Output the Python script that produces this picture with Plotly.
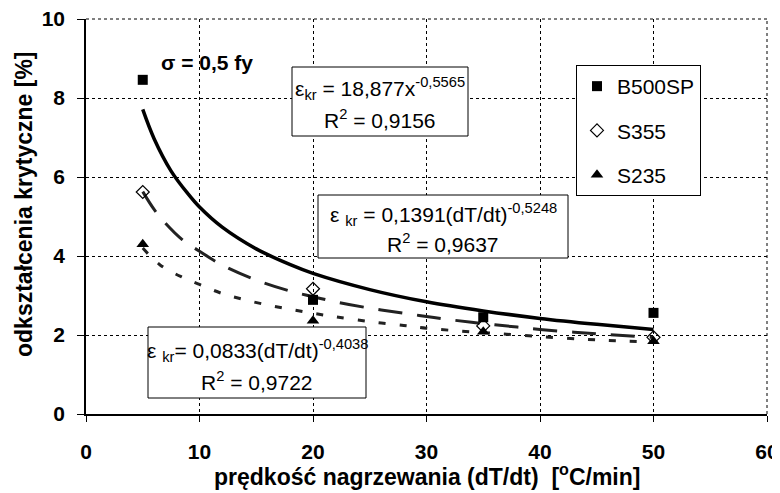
import plotly.graph_objects as go

# ---- data ----
rate = [5, 20, 35, 50]
b500sp = [8.46, 2.89, 2.45, 2.56]
s355 = [5.62, 3.17, 2.23, 1.94]
s235 = [4.30, 2.36, 2.08, 1.84]

# trend curves
fit_b_x = [5, 6, 7.5, 9, 10, 12, 15, 18, 20, 25, 30, 35, 40, 45, 50]
fit_b_y = [7.71, 6.97, 6.15, 5.57, 5.24, 4.73, 4.18, 3.78, 3.56, 3.15, 2.84, 2.61, 2.42, 2.27, 2.14]

fit_s355_x = [5, 6, 7, 8.5, 10, 12, 15, 18, 20, 22, 25, 28, 30, 32, 35, 38, 40, 43, 46, 50]
fit_s355_y = [5.63, 5.18, 4.83, 4.41, 4.12, 3.77, 3.39, 3.11, 2.97, 2.84, 2.68, 2.55, 2.47, 2.39, 2.29, 2.20, 2.14, 2.07, 2.01, 1.94]

fit_s235_x = [5, 6.5, 8.5, 10, 12, 14, 16, 18, 20, 22, 25, 28, 30, 33, 36, 40, 44, 47, 50]
fit_s235_y = [4.20, 3.78, 3.46, 3.28, 3.05, 2.89, 2.76, 2.65, 2.55, 2.46, 2.34, 2.24, 2.17, 2.10, 2.04, 1.96, 1.89, 1.85, 1.82]

x_ticks = [0, 10, 20, 30, 40, 50, 60]
y_ticks = [0, 2, 4, 6, 8, 10]

FONT = "Liberation Sans, Arial, sans-serif"

fig = go.Figure()

fig.add_trace(go.Scatter(x=fit_b_x, y=fit_b_y, mode="lines", line_shape="spline",
                         line=dict(color="black", width=3.5), showlegend=False, hoverinfo="skip"))
fig.add_trace(go.Scatter(x=fit_s355_x, y=fit_s355_y, mode="lines", line_shape="spline",
                         line=dict(color="#222", width=3, dash="24px,15px"), showlegend=False, hoverinfo="skip"))
fig.add_trace(go.Scatter(x=fit_s235_x, y=fit_s235_y, mode="lines", line_shape="spline",
                         line=dict(color="#222", width=3, dash="7px,14px"), showlegend=False, hoverinfo="skip"))

fig.add_trace(go.Scatter(x=rate, y=b500sp, mode="markers", name="B500SP", legendgroup="a",
                         marker=dict(symbol="square", size=10, color="black")))
fig.add_trace(go.Scatter(x=rate, y=s355, mode="markers", name="S355", legendgroup="b",
                         marker=dict(symbol="diamond-open", size=10, color="black", line=dict(width=1.2))))
fig.add_trace(go.Scatter(x=rate, y=s235, mode="markers", name="S235", legendgroup="c",
                         marker=dict(symbol="triangle-up", size=11, color="black")))

# page has an 8px body margin; work in reference-pixel coordinates
OFF = 8
W, H = 780 - OFF, 493 - OFF
PX0, PX1, PY0, PY1 = 86, 767, 19, 414  # plot area in reference pixels
L, T = PX0 - OFF, PY0 - OFF
R, B = W - (PX1 - OFF), H - (PY1 - OFF)
PW, PH = PX1 - PX0, PY1 - PY0


def px(xp):
    return (xp - PX0) / PW


def py(yp):
    return (PY1 - yp) / PH


boxes = [
    (292, 468, 67, 136),
    (318, 568, 195, 258),
    (148, 366, 327, 398),
]
for x0, x1, y0, y1 in boxes:
    fig.add_shape(type="rect", xref="paper", yref="paper",
                  x0=px(x0), x1=px(x1), y0=py(y1), y1=py(y0),
                  line=dict(color="black", width=1), fillcolor="white", layer="above")

eq_texts = [
    ("ε<sub>kr</sub> = 18,877x<sup>-0,5565</sup>", 380, 89),
    ("R<sup>2</sup> = 0,9156", 380, 119),
    ("ε <sub>kr</sub> = 0,1391(dT/dt)<sup>-0,5248</sup>", 443, 214),
    ("R<sup>2</sup> = 0,9637", 443, 243),
    ("ε <sub>kr</sub>= 0,0833(dT/dt)<sup>-0,4038</sup>", 257, 350),
    ("R<sup>2</sup> = 0,9722", 257, 381),
]
for txt, cx, cy in eq_texts:
    fig.add_annotation(text=txt, xref="paper", yref="paper", x=px(cx), y=py(cy),
                       xanchor="center", yanchor="middle", showarrow=False,
                       font=dict(family=FONT, size=21, color="black"))

fig.add_annotation(text="<b>σ = 0,5 fy</b>", xref="paper", yref="paper",
                   x=px(159), y=py(62), xanchor="left", yanchor="middle", showarrow=False,
                   font=dict(family=FONT, size=21, color="black"))

# axis titles
fig.add_annotation(text="<b>prędkość nagrzewania (dT/dt)  [<sup>o</sup>C/min]</b>",
                   xref="paper", yref="paper", x=px(427), y=py(475),
                   xanchor="center", yanchor="middle", showarrow=False,
                   font=dict(family=FONT, size=23, color="black"))
fig.add_annotation(text="<b>odkształcenia krytyczne [%]</b>",
                   xref="paper", yref="paper", x=px(24), y=py(204), textangle=-90,
                   xanchor="center", yanchor="middle", showarrow=False,
                   font=dict(family=FONT, size=23, color="black"))

# dashed top/right borders
fig.add_shape(type="line", xref="paper", yref="paper", x0=0, x1=1, y0=1, y1=1,
              line=dict(color="black", width=1, dash="3px,3px"))
fig.add_shape(type="line", xref="paper", yref="paper", x0=1, x1=1, y0=0, y1=1,
              line=dict(color="black", width=1, dash="3px,3px"))

fig.update_layout(
    width=W, height=H,
    margin=dict(l=L, r=R, t=T, b=B, pad=0),
    paper_bgcolor="white", plot_bgcolor="white",
    font=dict(family=FONT, color="black"),
    legend=dict(x=px(576), y=py(65), xanchor="left", yanchor="top",
                bordercolor="black", borderwidth=1, bgcolor="white",
                font=dict(family=FONT, size=21, color="black"),
                tracegroupgap=14, itemwidth=30),
    xaxis=dict(range=[0, 60], tickvals=x_ticks, ticks="outside", ticklen=6, tickcolor="black",
               showline=True, linecolor="black", linewidth=1.5, automargin=False,
               showgrid=True, gridcolor="black", gridwidth=1, griddash="3px,3px",
               zeroline=False, ticklabelstandoff=12, ticklabeloverflow="allow",
               tickfont=dict(family=FONT, size=21, color="black", weight="bold")),
    yaxis=dict(range=[0, 10], tickvals=y_ticks, ticks="outside", ticklen=7, tickcolor="black",
               showline=True, linecolor="black", linewidth=1.5, automargin=False,
               showgrid=True, gridcolor="black", gridwidth=1, griddash="3px,3px",
               zeroline=False, ticklabelstandoff=8, ticklabeloverflow="allow",
               tickfont=dict(family=FONT, size=21, color="black", weight="bold")),
)

fig.write_html("out.html")
